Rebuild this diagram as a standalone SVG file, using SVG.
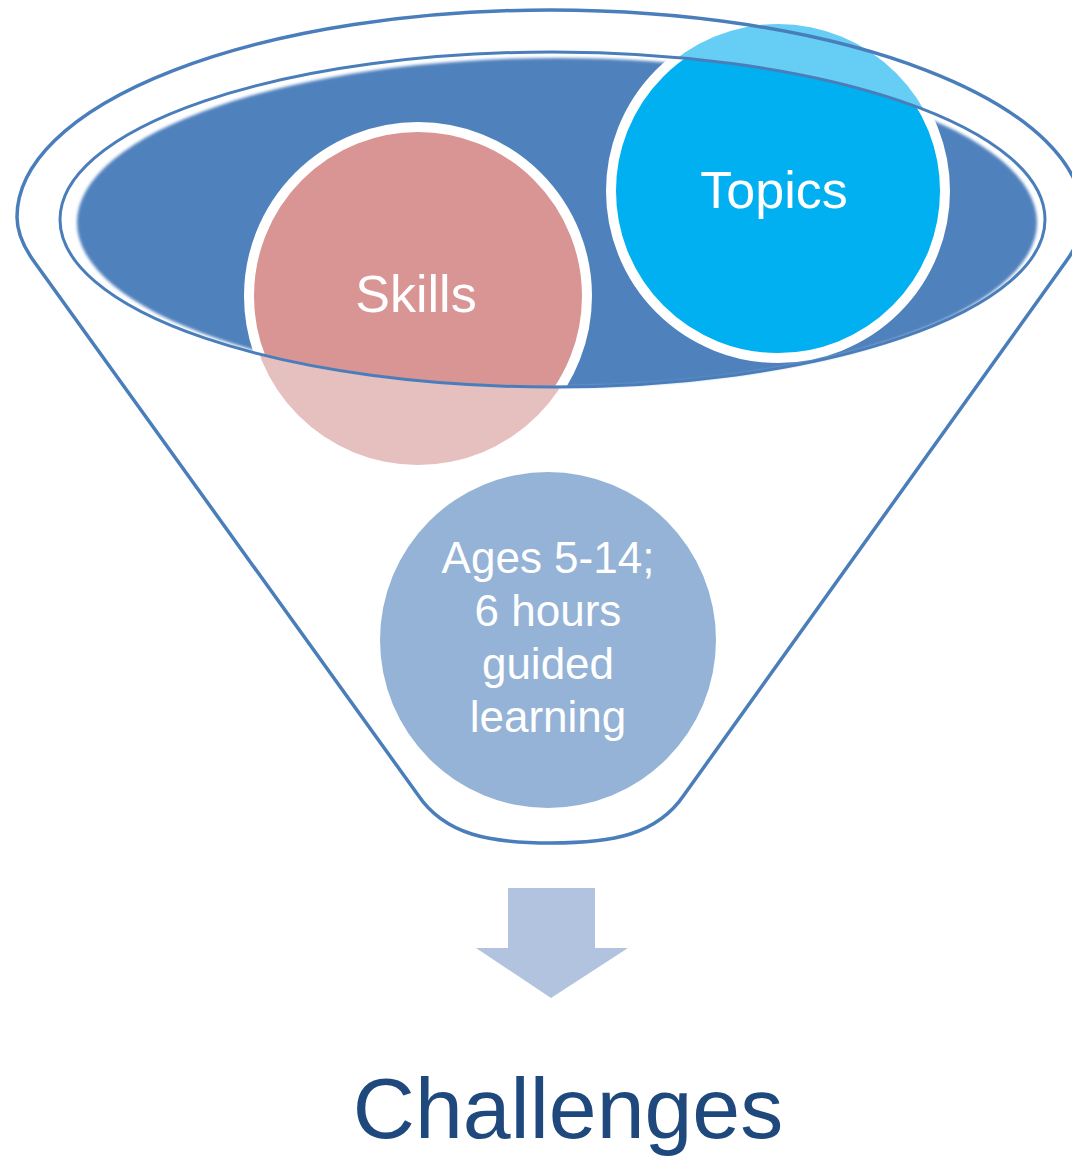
<svg xmlns="http://www.w3.org/2000/svg" width="1072" height="1157" viewBox="0 0 1072 1157">
  <defs>
    <style>
      .outline { fill: none; stroke: #4A7EBB; }
      .ring { stroke: #FFFFFF; stroke-width: 10; }
      .lbl { font-family: "Liberation Sans", Arial, sans-serif; fill: #FFFFFF; text-anchor: middle; }
    </style>
    <clipPath id="lid">
      <ellipse cx="552.5" cy="219.5" rx="492.5" ry="167.5"/>
    </clipPath>
    <filter id="soft" x="-5%" y="-5%" width="110%" height="110%">
      <feGaussianBlur stdDeviation="1.6"/>
    </filter>
  </defs>
  <rect width="1072" height="1157" fill="#FFFFFF"/>

  <g id="node-funnel-lid">
    <ellipse cx="557" cy="222.5" rx="480" ry="164.5" fill="#4F81BD" filter="url(#soft)"/>
  </g>

  <g id="node-skills">
    <circle cx="418" cy="296" r="169" fill="#E6BFBF"/>
    <circle cx="418" cy="296" r="169" fill="#D99594" class="ring" clip-path="url(#lid)"/>
  </g>

  <g id="node-topics">
    <circle cx="778" cy="191" r="167" fill="#66CDF5"/>
    <circle cx="778" cy="191" r="167" fill="#00B0F0" class="ring" clip-path="url(#lid)"/>
  </g>

  <g id="node-ages">
    <circle cx="548" cy="640" r="168" fill="#95B3D7"/>
  </g>

  <g id="node-funnel">
    <ellipse class="outline" cx="552.5" cy="219.5" rx="492.5" ry="167.5" stroke-width="3"/>
    <path class="outline" stroke-width="3.5" d="M 33,260 C 26,250 17,235 17,217 A 533 207 0 0 1 1083 217 C 1083,235 1074,250 1067,260 L 684,795 C 657,835 612,843 551,843 C 490,843 445,835 418,795 Z"/>
  </g>

  <g id="labels">
    <text class="lbl" x="416" y="312" font-size="52">Skills</text>
    <text class="lbl" x="774" y="208" font-size="52">Topics</text>
    <text class="lbl" font-size="44"><tspan x="548" y="573">Ages 5-14;</tspan><tspan x="548" y="626">6 hours</tspan><tspan x="548" y="679">guided</tspan><tspan x="548" y="732">learning</tspan></text>
  </g>

  <g id="connectors">
    <path d="M 508,888 L 595,888 L 595,948 L 628,948 L 551,998 L 476,948 L 508,948 Z" fill="#B1C3DF"/>
  </g>

  <g id="node-challenges">
    <text x="568" y="1138" font-family="Liberation Sans, Arial, sans-serif" font-size="86" fill="#1F497D" text-anchor="middle">Challenges</text>
  </g>
</svg>
